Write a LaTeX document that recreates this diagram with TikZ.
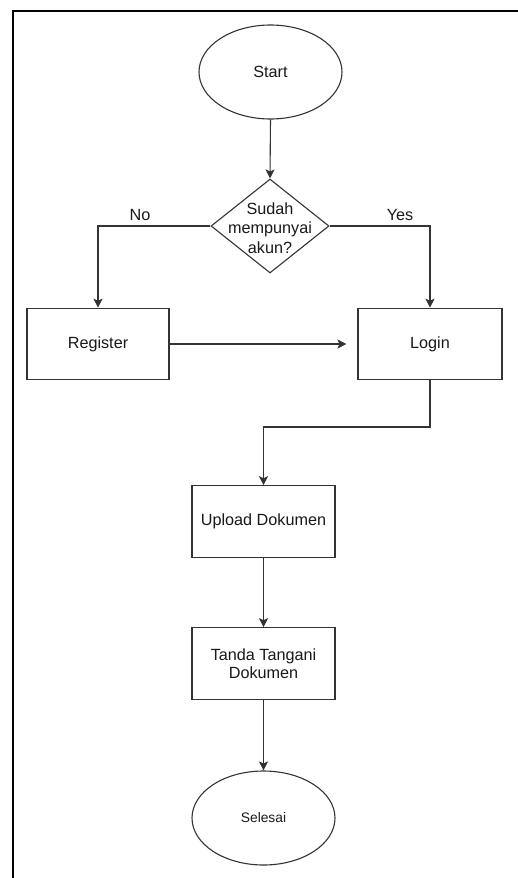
\documentclass[tikz,border=0pt]{standalone}
\usepackage{fontspec}
\setmainfont{Liberation Sans}
\usetikzlibrary{shapes.geometric,arrows.meta}
\begin{document}
\begin{tikzpicture}[x=1pt,y=-1pt,
  every node/.style={font=\fontsize{16.2}{19.5}\selectfont, text=black!90},
  shp/.style={draw=black!80, line width=1.1pt, inner sep=0pt},
  procbox/.style={shp, rectangle, minimum width=143pt, minimum height=71.5pt, align=center},
  term/.style={shp, ellipse, minimum width=143pt, minimum height=94pt},
  decis/.style={shp, diamond, minimum width=118pt, minimum height=94pt},
  arr/.style={draw=black!80, line width=1.1pt, -{Stealth[length=9pt,width=9pt,inset=2pt]}},
  lbl/.style={inner sep=0pt}
]
\useasboundingbox (0,0) rectangle (518,878);
\fill[white] (0,0) rectangle (518,878);
\draw[line width=2pt, black] (13,878) -- (13,10.5) -- (518,10.5);

\node[term] (start) at (270.5,72) {Start};
\node[decis] (dec) at (270,226) {};
\node[lbl, align=center] (dectext) at (270,228) {Sudah\\mempunyai\\akun?};
\node[procbox, minimum width=142pt] (reg) at (98,344) {Register};
\node[procbox, minimum width=144pt] (login) at (430,344) {Login};
\node[procbox] (upload) at (263.5,521.5) {Upload Dokumen};
\node[procbox, align=center, font=\fontsize{16.2}{18.5}\selectfont] (tanda) at (263.5,663.5) {Tanda Tangani\\Dokumen};
\node[term, font=\fontsize{13.8}{16}\selectfont] (selesai) at (263.5,818) {Selesai};

\node[lbl] (nolab) at (140,215) {No};
\node[lbl] (yeslab) at (400,215) {Yes};

\coordinate (bend) at (263.5,427);

\draw[arr] (start.south) -- (dec.north);
\draw[arr] (dec.west) -| (reg.north);
\draw[arr] (dec.east) -| (login.north);
\draw[arr, shorten >=11pt] (reg.east) -- (login.west);
\draw[arr] (login.south) |- (bend) -- (upload.north);
\draw[arr] (upload.south) -- (tanda.north);
\draw[arr] (tanda.south) -- (selesai.north);
\end{tikzpicture}
\end{document}
